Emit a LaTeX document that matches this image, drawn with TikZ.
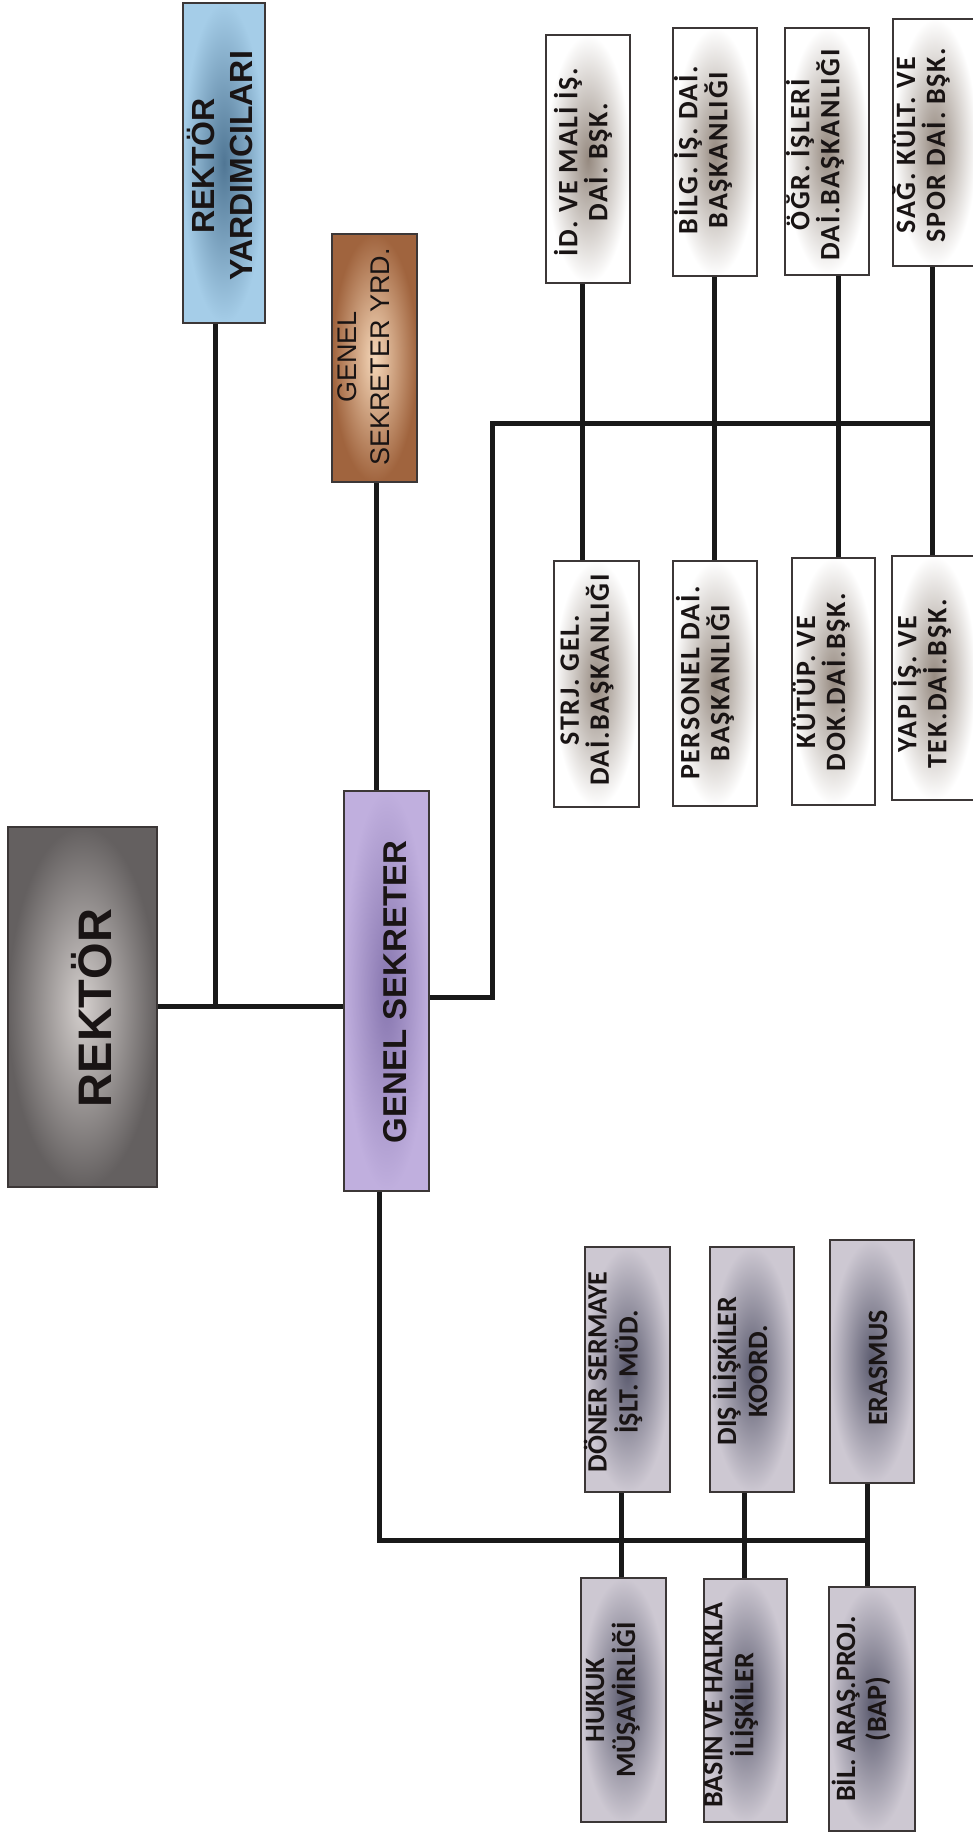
\documentclass[tikz,border=0pt]{standalone}
\usepackage{fontspec}
\setmainfont{Liberation Sans}
\newfontfamily\deptfont{Carlito}[LetterSpace=6]
\newfontfamily\unitfont{Carlito}
\definecolor{linec}{RGB}{25,25,25}
\definecolor{boxline}{RGB}{60,55,55}
\definecolor{txt}{RGB}{25,20,20}
\definecolor{rekIn}{RGB}{212,207,205}
\definecolor{rekOut}{RGB}{100,96,96}
\definecolor{gsIn}{RGB}{135,118,175}
\definecolor{gsOut}{RGB}{192,175,222}
\definecolor{ryIn}{RGB}{80,118,148}
\definecolor{ryOut}{RGB}{165,205,232}
\definecolor{gsyIn}{RGB}{245,215,185}
\definecolor{gsyOut}{RGB}{160,100,62}
\definecolor{dIn}{RGB}{150,138,128}
\definecolor{uIn}{RGB}{90,90,110}
\definecolor{uOut}{RGB}{205,200,210}
\tikzset{
  box/.style={draw=boxline, line width=1.3pt, inner sep=0pt},
  deptbox/.style={box, inner color=dIn, outer color=white, minimum width=84, minimum height=247},
  unitbox/.style={box, inner color=uIn, outer color=uOut, minimum width=84, minimum height=245},
  conn/.style={line width=5pt, draw=linec},
  lbl/.style={rotate=90, align=center, inner sep=0pt, text=txt},
  deptlbl/.style={lbl, font=\deptfont\bfseries\fontsize{28}{30}\selectfont},
  unitlbl/.style={lbl, font=\unitfont\bfseries\fontsize{28}{31}\selectfont},
}
\begin{document}
\begin{tikzpicture}[x=1pt,y=-1pt]
\useasboundingbox (0,0) rectangle (972,1839);
\fill[white] (0,0) rectangle (972,1839);

% junction coordinates
\coordinate (j1) at (215,1006);
\coordinate (j2) at (376,0);
\coordinate (gr) at (492,997);
\coordinate (rb) at (492,423);
\coordinate (c1) at (582,423);
\coordinate (c2) at (714,423);
\coordinate (c3) at (838,423);
\coordinate (c4) at (932,423);
\coordinate (gb) at (379,1540);
\coordinate (d1) at (621,1540);
\coordinate (d2) at (744,1540);
\coordinate (d3) at (867,1540);

% invisible anchors for the boxes
\path (82.5,1007) node[box, minimum width=149, minimum height=360, draw=none] (rek) {};
\path (224,163) node[box, minimum width=82, minimum height=320, draw=none] (ry) {};
\path (386.5,991) node[box, minimum width=85, minimum height=400, draw=none] (gs) {};
\path (374.5,358) node[box, minimum width=85, minimum height=248, draw=none] (gsy) {};
\path (588,159) node[box, minimum width=84, minimum height=248, draw=none] (id) {};
\path (715,152) node[box, minimum width=84, minimum height=248, draw=none] (bilg) {};
\path (827,151.5) node[box, minimum width=84, minimum height=247, draw=none] (ogr) {};
\path (935,142.5) node[box, minimum width=84, minimum height=247, draw=none] (sag) {};
\path (596.5,684) node[box, minimum width=85, minimum height=246, draw=none] (strj) {};
\path (715,683.5) node[box, minimum width=84, minimum height=245, draw=none] (pers) {};
\path (833.5,681.5) node[box, minimum width=83, minimum height=247, draw=none] (kut) {};
\path (934,678) node[box, minimum width=84, minimum height=244, draw=none] (yapi) {};
\path (627.5,1369.5) node[box, minimum width=85, minimum height=245, draw=none] (doner) {};
\path (752,1369.5) node[box, minimum width=84, minimum height=245, draw=none] (dis) {};
\path (872,1361.5) node[box, minimum width=84, minimum height=243, draw=none] (eras) {};
\path (623.5,1700) node[box, minimum width=85, minimum height=244, draw=none] (huk) {};
\path (745.5,1700.5) node[box, minimum width=83, minimum height=243, draw=none] (bas) {};
\path (872,1709) node[box, minimum width=86, minimum height=244, draw=none] (bil) {};

% connectors
\draw[conn] (rek.east |- j1) -- (gs.west |- j1);
\draw[conn] (ry.south -| j1) -- (j1);
\draw[conn] (gsy.south -| j2) -- (gs.north -| j2);
\draw[conn] (gs.east |- gr) -- (gr) -- (rb) -- (c4);
\draw[conn] (c1 |- id.south) -- (c1 |- strj.north);
\draw[conn] (c2 |- bilg.south) -- (c2 |- pers.north);
\draw[conn] (c3 |- ogr.south) -- (c3 |- kut.north);
\draw[conn] (c4 |- sag.south) -- (c4 |- yapi.north);
\draw[conn] (gs.south -| gb) -- (gb) -- (d3);
\draw[conn] (d1 |- doner.south) -- (d1 |- huk.north);
\draw[conn] (d2 |- dis.south) -- (d2 |- bas.north);
\draw[conn] (d3 |- eras.south) -- (d3 |- bil.north);

% visible boxes
\node[box, inner color=rekIn, outer color=rekOut, minimum width=149, minimum height=360] (rekb) at (rek) {};
\node[box, inner color=ryIn, outer color=ryOut, minimum width=82, minimum height=320] (ryb) at (ry) {};
\node[box, inner color=gsIn, outer color=gsOut, minimum width=85, minimum height=400] (gsb) at (gs) {};
\node[box, inner color=gsyIn, outer color=gsyOut, minimum width=85, minimum height=248] (gsyb) at (gsy) {};
\node[deptbox, minimum height=248] (idb) at (id) {};
\node[deptbox, minimum height=248] (bilgb) at (bilg) {};
\node[deptbox] (ogrb) at (ogr) {};
\node[deptbox] (sagb) at (sag) {};
\node[deptbox, minimum width=85, minimum height=246] (strjb) at (strj) {};
\node[deptbox, minimum height=245] (persb) at (pers) {};
\node[deptbox, minimum width=83] (kutb) at (kut) {};
\node[deptbox, minimum height=244] (yapib) at (yapi) {};
\node[unitbox, minimum width=85] (donerb) at (doner) {};
\node[unitbox] (disb) at (dis) {};
\node[unitbox, minimum height=243] (erasb) at (eras) {};
\node[unitbox, minimum width=85, minimum height=244] (hukb) at (huk) {};
\node[unitbox, minimum width=83, minimum height=243] (basb) at (bas) {};
\node[unitbox, minimum width=86, minimum height=244] (bilb) at (bil) {};

% labels
\node[lbl, font=\bfseries\fontsize{47}{50}\selectfont] (rekt) at (92,1008) {REKTÖR};
\node[lbl, font=\bfseries\fontsize{32}{38}\selectfont] (ryt) at (220,166) {REKTÖR\\YARDIMCILARI};
\node[lbl, font=\bfseries\fontsize{33}{38}\selectfont] (gst) at (395,992) {GENEL SEKRETER};
\node[lbl, font=\fontsize{27}{33}\selectfont] (gsyt) at (364,357) {GENEL\\SEKRETER YRD.};
\node[deptlbl] (idt) at (583,162) {İD. VE MALİ İŞ.\\DAİ. BŞK.};
\node[deptlbl] (bilgt) at (703,150) {BİLG. İŞ. DAİ.\\BAŞKANLIĞI};
\node[deptlbl] (ogrt) at (815,155) {ÖĞR. İŞLERİ\\DAİ.BAŞKANLIĞI};
\node[deptlbl] (sagt) at (921,145) {SAĞ. KÜLT. VE\\SPOR DAİ. BŞK.};
\node[deptlbl] (strjt) at (587,680) {STRJ. GEL.\\DAİ.BAŞKANLIĞI};
\node[deptlbl] (perst) at (705,683) {PERSONEL DAİ.\\BAŞKANLIĞI};
\node[deptlbl] (kutt) at (821,682) {KÜTÜP. VE\\DOK.DAİ.BŞK.};
\node[deptlbl] (yapit) at (922,684) {YAPI İŞ. VE\\TEK.DAİ.BŞK.};
\node[unitlbl] (donert) at (613,1372) {DÖNER SERMAYE\\İŞLT. MÜD.};
\node[unitlbl] (dist) at (740,1371) {DIŞ İLİŞKİLER\\KOORD.};
\node[unitlbl] (erast) at (878,1368) {ERASMUS};
\node[unitlbl] (hukt) at (613,1700) {HUKUK\\MÜŞAVİRLİĞİ};
\node[unitlbl] (bast) at (731,1705) {BASIN VE HALKLA\\İLİŞKİLER};
\node[unitlbl] (bilt) at (861,1709) {BİL. ARAŞ.PROJ.\\(BAP)};
\end{tikzpicture}
\end{document}
